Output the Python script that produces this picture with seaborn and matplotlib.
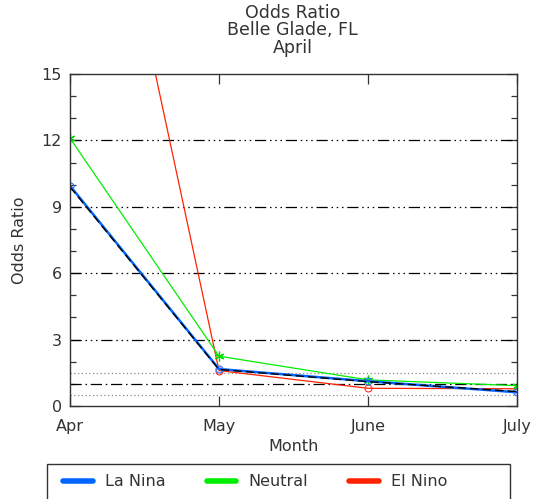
import matplotlib
matplotlib.use("Agg")
import matplotlib.pyplot as plt
from matplotlib.lines import Line2D
from matplotlib.patches import Rectangle
import seaborn as sns
import pandas as pd

months = ["Apr", "May", "June", "July"]
la_nina = [9.95, 1.67, 1.12, 0.62]
neutral = [12.1, 2.25, 1.18, 0.92]
el_nino = [33.0, 1.6, 0.8, 0.78]
all_years = [9.9, 1.65, 1.1, 0.65]

yticks = [0, 3, 6, 9, 12, 15]
ref_dashdotdot = [3, 6, 9, 12]
ref_dashdot = [1.0]
ref_dotted = [0.5, 1.5]

sns.set_theme(style="white")
plt.rcParams["font.family"] = ["DejaVu Sans"]
ink = "#333333"

fig = plt.figure(figsize=(5.34, 4.99), dpi=100)
ax = fig.add_axes([70 / 534, 1 - 406 / 499, 447 / 534, 332 / 499])

x = list(range(len(months)))

for y in ref_dashdotdot:
    ax.axhline(y, color="black", lw=0.9, dashes=(9, 3, 1.2, 3, 1.2, 3, 1.2, 3))
for y in ref_dashdot:
    ax.axhline(y, color="black", lw=0.9, dashes=(9, 3, 1.2, 3))
for y in ref_dotted:
    ax.axhline(y, color="#888888", lw=0.9, dashes=(1, 2))

df = pd.DataFrame({"x": x, "La Nina": la_nina, "Neutral": neutral,
                   "El Nino": el_nino, "All": all_years})

sns.lineplot(data=df, x="x", y="El Nino", ax=ax, color="#ff2200", lw=0.9,
             marker="o", markersize=5, markerfacecolor="none",
             markeredgecolor="#ff3020", markeredgewidth=0.8, clip_on=True)
sns.lineplot(data=df, x="x", y="Neutral", ax=ax, color="#00ee00", lw=0.9,
             marker=(6, 2, 0), markersize=7, markeredgecolor="#00dd00",
             markeredgewidth=0.9)
sns.lineplot(data=df, x="x", y="La Nina", ax=ax, color="#0066ff", lw=1.8,
             marker="o", markersize=5, markerfacecolor="none",
             markeredgecolor="#3377ff", markeredgewidth=0.9)
sns.lineplot(data=df, x="x", y="All", ax=ax, color="black", lw=1.0,
             dashes=False, linestyle=(0, (6, 3)))

ax.set_xlim(0, 3)
ax.set_ylim(0, 15)
ax.set_xticks(x)
ax.set_xticklabels(months)
ax.set_yticks(yticks)
ax.set_yticks(range(0, 16), minor=True)
ax.tick_params(axis="both", which="both", direction="in", color=ink,
               top=True, right=True, bottom=True, left=True)
ax.tick_params(axis="both", which="major", length=7, width=0.9,
               labelsize=11.5, labelcolor=ink)
ax.tick_params(axis="both", which="minor", length=4, width=0.9)
ax.tick_params(axis="x", pad=9)
ax.tick_params(axis="y", pad=6)
for s in ax.spines.values():
    s.set_color(ink)
    s.set_linewidth(1.0)

ax.set_xlabel("Month", fontsize=11.5, color=ink, labelpad=4)
ax.set_ylabel("Odds Ratio", fontsize=11.5, color=ink, labelpad=10)
ax.grid(False)

fig.text(0.548, 1 - 4 / 499, "Odds Ratio\nBelle Glade, FL\nApril",
         ha="center", va="top", fontsize=12.5, color=ink, linespacing=0.95)

# legend frame, running off the bottom edge of the figure
fig.add_artist(Rectangle((47 / 534, -0.05), 463 / 534, 0.05 + 35 / 499,
                         transform=fig.transFigure, fill=False,
                         edgecolor=ink, lw=1.0))

handles = [Line2D([], [], color="#0066ff", lw=4),
           Line2D([], [], color="#00ee00", lw=4),
           Line2D([], [], color="#ff2200", lw=4)]
leg = fig.legend(handles, ["La Nina", "Neutral", "El Nino"], ncol=3,
                 loc="center left", borderaxespad=0, borderpad=0,
                 bbox_to_anchor=(63 / 534, 1 - 482 / 499),
                 fontsize=11.5, handlelength=1.85, handletextpad=0.75,
                 columnspacing=2.6, frameon=False)
for t in leg.get_texts():
    t.set_color(ink)

fig.savefig("out.png", dpi=100)
